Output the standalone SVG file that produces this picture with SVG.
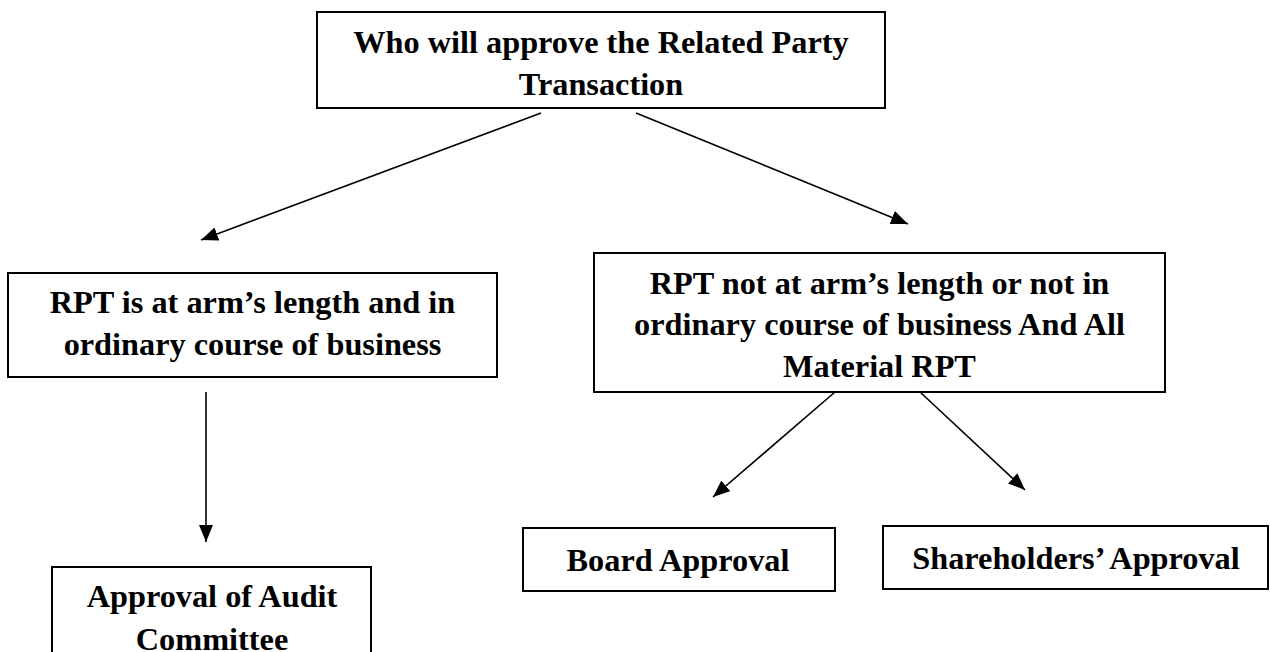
<svg xmlns="http://www.w3.org/2000/svg" width="1270" height="652" viewBox="0 0 1270 652">
  <defs>
    <marker id="arrow" viewBox="0 0 17 14" refX="17" refY="7" markerWidth="17" markerHeight="14" markerUnits="userSpaceOnUse" orient="auto">
      <path d="M0,0 L17,7 L0,14 z" fill="#000"/>
    </marker>
    <style>
      .box { fill: #fff; stroke: #000; stroke-width: 2; }
      .lbl { font-family: "Liberation Serif", "Times New Roman", serif; font-weight: bold; font-size: 32.3px; fill: #000; text-anchor: middle; }
      .edge { stroke: #000; stroke-width: 1.6; fill: none; marker-end: url(#arrow); }
    </style>
  </defs>
  <rect width="1270" height="652" fill="#fff"/>

  <g id="connectors">
    <line class="edge" x1="541" y1="113" x2="201" y2="240"/>
    <line class="edge" x1="636" y1="113" x2="908" y2="224"/>
    <line class="edge" x1="206" y1="392" x2="206" y2="542"/>
    <line class="edge" x1="835" y1="392" x2="713" y2="497"/>
    <line class="edge" x1="920" y1="392" x2="1025" y2="490"/>
  </g>

  <g id="node-root">
    <rect class="box" x="317" y="12" width="568" height="96"/>
    <text class="lbl" x="601" y="53">Who will approve the Related Party</text>
    <text class="lbl" x="601" y="95">Transaction</text>
  </g>

  <g id="node-arms-length">
    <rect class="box" x="8" y="273" width="489" height="104"/>
    <text class="lbl" x="252.5" y="313">RPT is at arm’s length and in</text>
    <text class="lbl" x="252.5" y="355">ordinary course of business</text>
  </g>

  <g id="node-not-arms-length">
    <rect class="box" x="594" y="253" width="571" height="139"/>
    <text class="lbl" x="879.5" y="294">RPT not at arm’s length or not in</text>
    <text class="lbl" x="879.5" y="335">ordinary course of business And All</text>
    <text class="lbl" x="879.5" y="377">Material RPT</text>
  </g>

  <g id="node-audit">
    <rect class="box" x="52" y="567" width="319" height="100"/>
    <text class="lbl" x="212" y="607">Approval of Audit</text>
    <text class="lbl" x="212" y="650">Committee</text>
  </g>

  <g id="node-board">
    <rect class="box" x="523" y="528" width="312" height="63"/>
    <text class="lbl" x="678" y="571">Board Approval</text>
  </g>

  <g id="node-shareholders">
    <rect class="box" x="883" y="526" width="385" height="63"/>
    <text class="lbl" x="1076" y="569">Shareholders’ Approval</text>
  </g>
</svg>
